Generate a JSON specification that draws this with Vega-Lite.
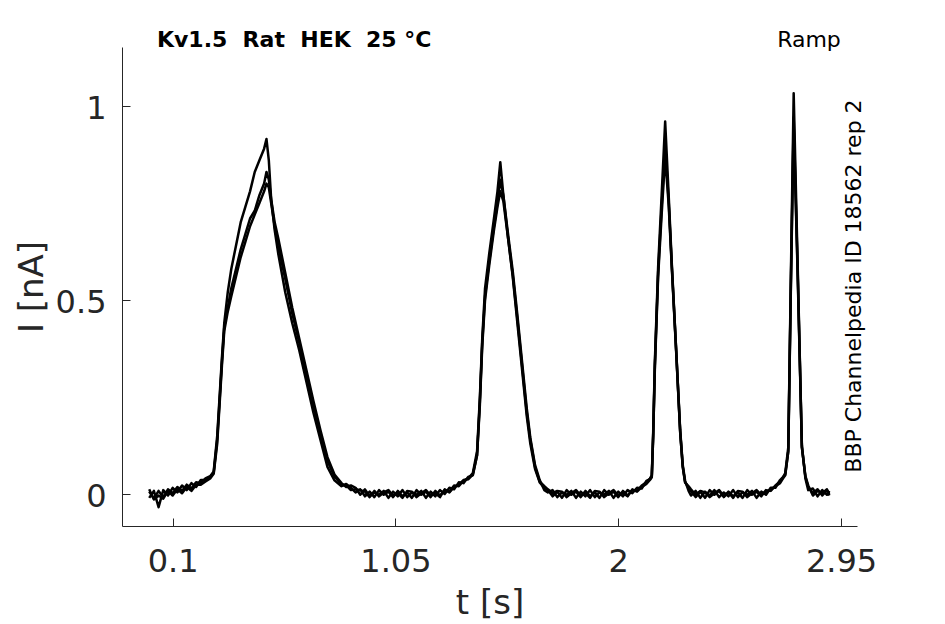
{
  "$schema": "https://vega.github.io/schema/vega-lite/v6.json",
  "width": 735,
  "height": 479,
  "autosize": {"type": "none"},
  "padding": {"left": 122, "top": 47, "right": 88, "bottom": 98},
  "background": "white",
  "config": {
    "view": {"stroke": null},
    "font": "DejaVu Sans",
    "axis": {
      "grid": false,
      "domainColor": "#262626",
      "domainWidth": 1,
      "tickColor": "#262626",
      "tickWidth": 1,
      "tickSize": -8,
      "labelColor": "#262626",
      "titleColor": "#262626",
      "labelFont": "DejaVu Sans",
      "titleFont": "DejaVu Sans",
      "labelFontSize": 32,
      "titleFontSize": 34,
      "titleFontWeight": "normal"
    }
  },
  "datasets": {
    "traces": [
      {"t": 0.00, "a": 0.006, "b": -0.010, "c": 0.012},
      {"t": 0.02, "a": -0.012, "b": 0.008, "c": -0.014},
      {"t": 0.04, "a": 0.008, "b": -0.034, "c": -0.004},
      {"t": 0.06, "a": -0.008, "b": 0.010, "c": -0.012},
      {"t": 0.08, "a": 0.012, "b": -0.004, "c": 0.008},
      {"t": 0.10, "a": 0.002, "b": 0.016, "c": -0.004},
      {"t": 0.12, "a": 0.018, "b": 0.004, "c": 0.012},
      {"t": 0.14, "a": 0.008, "b": 0.022, "c": 0.002},
      {"t": 0.16, "a": 0.024, "b": 0.010, "c": 0.018},
      {"t": 0.18, "a": 0.014, "b": 0.028, "c": 0.008},
      {"t": 0.20, "a": 0.030, "b": 0.018, "c": 0.024},
      {"t": 0.22, "a": 0.028, "b": 0.036, "c": 0.024},
      {"t": 0.24, "a": 0.040, "b": 0.036, "c": 0.032},
      {"t": 0.26, "a": 0.046, "b": 0.044, "c": 0.040},
      {"t": 0.275, "a": 0.058, "b": 0.055, "c": 0.052},
      {"t": 0.29, "a": 0.15, "b": 0.14, "c": 0.13},
      {"t": 0.30, "a": 0.25, "b": 0.24, "c": 0.23},
      {"t": 0.31, "a": 0.35, "b": 0.34, "c": 0.33},
      {"t": 0.32, "a": 0.44, "b": 0.43, "c": 0.42},
      {"t": 0.335, "a": 0.52, "b": 0.48, "c": 0.47},
      {"t": 0.35, "a": 0.58, "b": 0.53, "c": 0.51},
      {"t": 0.37, "a": 0.64, "b": 0.58, "c": 0.56},
      {"t": 0.39, "a": 0.70, "b": 0.63, "c": 0.61},
      {"t": 0.41, "a": 0.74, "b": 0.67, "c": 0.65},
      {"t": 0.43, "a": 0.78, "b": 0.71, "c": 0.69},
      {"t": 0.45, "a": 0.83, "b": 0.73, "c": 0.72},
      {"t": 0.47, "a": 0.86, "b": 0.77, "c": 0.75},
      {"t": 0.49, "a": 0.89, "b": 0.80, "c": 0.78},
      {"t": 0.50, "a": 0.915, "b": 0.83, "c": 0.80},
      {"t": 0.51, "a": 0.86, "b": 0.81, "c": 0.79},
      {"t": 0.52, "a": 0.76, "b": 0.76, "c": 0.75},
      {"t": 0.535, "a": 0.68, "b": 0.70, "c": 0.69},
      {"t": 0.55, "a": 0.62, "b": 0.66, "c": 0.64},
      {"t": 0.58, "a": 0.52, "b": 0.57, "c": 0.555},
      {"t": 0.61, "a": 0.44, "b": 0.48, "c": 0.465},
      {"t": 0.64, "a": 0.37, "b": 0.40, "c": 0.39},
      {"t": 0.67, "a": 0.29, "b": 0.32, "c": 0.31},
      {"t": 0.70, "a": 0.21, "b": 0.24, "c": 0.23},
      {"t": 0.73, "a": 0.14, "b": 0.165, "c": 0.155},
      {"t": 0.76, "a": 0.07, "b": 0.095, "c": 0.085},
      {"t": 0.79, "a": 0.035, "b": 0.05, "c": 0.045},
      {"t": 0.82, "a": 0.02, "b": 0.028, "c": 0.024},
      {"t": 0.84, "a": 0.026, "b": 0.018, "c": 0.022},
      {"t": 0.86, "a": 0.016, "b": 0.022, "c": 0.010},
      {"t": 0.88, "a": 0.004, "b": 0.016, "c": 0.012},
      {"t": 0.90, "a": 0.012, "b": -0.002, "c": 0.010},
      {"t": 0.92, "a": -0.006, "b": 0.012, "c": 0.006},
      {"t": 0.94, "a": 0.006, "b": -0.006, "c": -0.008},
      {"t": 0.96, "a": -0.008, "b": 0.004, "c": 0.008},
      {"t": 0.98, "a": 0.010, "b": -0.002, "c": -0.006},
      {"t": 1.00, "a": -0.002, "b": 0.008, "c": 0.004},
      {"t": 1.02, "a": 0.006, "b": -0.010, "c": 0.010},
      {"t": 1.04, "a": -0.008, "b": 0.006, "c": -0.004},
      {"t": 1.06, "a": 0.008, "b": -0.006, "c": 0.002},
      {"t": 1.08, "a": -0.006, "b": 0.010, "c": -0.010},
      {"t": 1.10, "a": 0.004, "b": -0.008, "c": 0.008},
      {"t": 1.12, "a": -0.010, "b": 0.004, "c": 0.006},
      {"t": 1.14, "a": 0.010, "b": -0.002, "c": -0.008},
      {"t": 1.16, "a": -0.002, "b": 0.008, "c": 0.002},
      {"t": 1.18, "a": 0.006, "b": -0.010, "c": 0.010},
      {"t": 1.20, "a": -0.008, "b": 0.006, "c": -0.004},
      {"t": 1.22, "a": 0.008, "b": -0.006, "c": 0.002},
      {"t": 1.24, "a": -0.004, "b": 0.010, "c": -0.008},
      {"t": 1.26, "a": 0.010, "b": 0.000, "c": 0.012},
      {"t": 1.28, "a": 0.006, "b": 0.016, "c": 0.004},
      {"t": 1.30, "a": 0.022, "b": 0.012, "c": 0.018},
      {"t": 1.32, "a": 0.020, "b": 0.030, "c": 0.024},
      {"t": 1.34, "a": 0.034, "b": 0.028, "c": 0.036},
      {"t": 1.36, "a": 0.040, "b": 0.044, "c": 0.038},
      {"t": 1.38, "a": 0.054, "b": 0.048, "c": 0.050},
      {"t": 1.398, "a": 0.11, "b": 0.10, "c": 0.10},
      {"t": 1.41, "a": 0.25, "b": 0.24, "c": 0.23},
      {"t": 1.42, "a": 0.40, "b": 0.39, "c": 0.38},
      {"t": 1.432, "a": 0.53, "b": 0.51, "c": 0.50},
      {"t": 1.45, "a": 0.62, "b": 0.60, "c": 0.59},
      {"t": 1.47, "a": 0.71, "b": 0.69, "c": 0.68},
      {"t": 1.485, "a": 0.78, "b": 0.75, "c": 0.74},
      {"t": 1.497, "a": 0.855, "b": 0.81, "c": 0.78},
      {"t": 1.51, "a": 0.77, "b": 0.77, "c": 0.755},
      {"t": 1.53, "a": 0.66, "b": 0.67, "c": 0.66},
      {"t": 1.55, "a": 0.56, "b": 0.575, "c": 0.565},
      {"t": 1.57, "a": 0.44, "b": 0.46, "c": 0.45},
      {"t": 1.59, "a": 0.32, "b": 0.34, "c": 0.33},
      {"t": 1.61, "a": 0.20, "b": 0.22, "c": 0.21},
      {"t": 1.625, "a": 0.13, "b": 0.145, "c": 0.14},
      {"t": 1.645, "a": 0.065, "b": 0.075, "c": 0.07},
      {"t": 1.665, "a": 0.03, "b": 0.036, "c": 0.032},
      {"t": 1.685, "a": 0.016, "b": 0.010, "c": 0.020},
      {"t": 1.70, "a": 0.010, "b": 0.004, "c": 0.012},
      {"t": 1.72, "a": -0.006, "b": 0.010, "c": 0.002},
      {"t": 1.74, "a": 0.006, "b": -0.008, "c": 0.008},
      {"t": 1.76, "a": -0.010, "b": 0.004, "c": 0.006},
      {"t": 1.78, "a": 0.010, "b": -0.002, "c": -0.008},
      {"t": 1.80, "a": -0.002, "b": 0.008, "c": 0.002},
      {"t": 1.82, "a": 0.006, "b": -0.010, "c": 0.010},
      {"t": 1.84, "a": -0.008, "b": 0.006, "c": -0.004},
      {"t": 1.86, "a": 0.008, "b": -0.006, "c": 0.002},
      {"t": 1.88, "a": -0.006, "b": 0.010, "c": -0.010},
      {"t": 1.90, "a": 0.004, "b": -0.008, "c": 0.008},
      {"t": 1.92, "a": -0.010, "b": 0.004, "c": 0.006},
      {"t": 1.94, "a": 0.010, "b": -0.002, "c": -0.008},
      {"t": 1.96, "a": -0.002, "b": 0.008, "c": 0.002},
      {"t": 1.98, "a": 0.006, "b": -0.010, "c": 0.010},
      {"t": 2.00, "a": -0.008, "b": 0.006, "c": -0.004},
      {"t": 2.02, "a": 0.008, "b": -0.006, "c": 0.002},
      {"t": 2.04, "a": -0.004, "b": 0.010, "c": -0.006},
      {"t": 2.06, "a": 0.010, "b": 0.002, "c": 0.012},
      {"t": 2.08, "a": 0.008, "b": 0.016, "c": 0.006},
      {"t": 2.10, "a": 0.022, "b": 0.014, "c": 0.018},
      {"t": 2.12, "a": 0.030, "b": 0.034, "c": 0.026},
      {"t": 2.135, "a": 0.040, "b": 0.038, "c": 0.036},
      {"t": 2.143, "a": 0.048, "b": 0.045, "c": 0.043},
      {"t": 2.149, "a": 0.16, "b": 0.15, "c": 0.15},
      {"t": 2.156, "a": 0.34, "b": 0.33, "c": 0.32},
      {"t": 2.17, "a": 0.585, "b": 0.57, "c": 0.56},
      {"t": 2.185, "a": 0.77, "b": 0.74, "c": 0.72},
      {"t": 2.20, "a": 0.96, "b": 0.90, "c": 0.87},
      {"t": 2.215, "a": 0.77, "b": 0.755, "c": 0.745},
      {"t": 2.229, "a": 0.585, "b": 0.58, "c": 0.575},
      {"t": 2.247, "a": 0.37, "b": 0.37, "c": 0.365},
      {"t": 2.264, "a": 0.16, "b": 0.165, "c": 0.16},
      {"t": 2.275, "a": 0.07, "b": 0.075, "c": 0.07},
      {"t": 2.285, "a": 0.03, "b": 0.034, "c": 0.03},
      {"t": 2.30, "a": 0.016, "b": 0.008, "c": 0.020},
      {"t": 2.31, "a": 0.008, "b": -0.004, "c": 0.012},
      {"t": 2.33, "a": -0.008, "b": 0.008, "c": -0.002},
      {"t": 2.35, "a": 0.006, "b": -0.010, "c": 0.008},
      {"t": 2.37, "a": -0.010, "b": 0.006, "c": 0.004},
      {"t": 2.39, "a": 0.010, "b": -0.004, "c": -0.008},
      {"t": 2.41, "a": -0.002, "b": 0.010, "c": 0.002},
      {"t": 2.43, "a": 0.008, "b": -0.008, "c": 0.010},
      {"t": 2.45, "a": -0.008, "b": 0.004, "c": -0.006},
      {"t": 2.47, "a": 0.006, "b": -0.006, "c": 0.004},
      {"t": 2.49, "a": -0.006, "b": 0.010, "c": -0.010},
      {"t": 2.51, "a": 0.004, "b": -0.008, "c": 0.008},
      {"t": 2.53, "a": -0.010, "b": 0.004, "c": 0.006},
      {"t": 2.55, "a": 0.010, "b": -0.002, "c": -0.008},
      {"t": 2.57, "a": -0.002, "b": 0.008, "c": 0.002},
      {"t": 2.59, "a": 0.006, "b": -0.010, "c": 0.010},
      {"t": 2.61, "a": -0.006, "b": 0.006, "c": -0.002},
      {"t": 2.63, "a": 0.010, "b": -0.002, "c": 0.006},
      {"t": 2.65, "a": 0.008, "b": 0.016, "c": 0.010},
      {"t": 2.67, "a": 0.022, "b": 0.016, "c": 0.020},
      {"t": 2.69, "a": 0.032, "b": 0.036, "c": 0.028},
      {"t": 2.70, "a": 0.040, "b": 0.042, "c": 0.038},
      {"t": 2.712, "a": 0.054, "b": 0.050, "c": 0.048},
      {"t": 2.725, "a": 0.12, "b": 0.11, "c": 0.11},
      {"t": 2.736, "a": 0.56, "b": 0.54, "c": 0.53},
      {"t": 2.748, "a": 1.033, "b": 0.97, "c": 0.95},
      {"t": 2.765, "a": 0.59, "b": 0.575, "c": 0.565},
      {"t": 2.783, "a": 0.12, "b": 0.125, "c": 0.12},
      {"t": 2.798, "a": 0.044, "b": 0.040, "c": 0.046},
      {"t": 2.81, "a": 0.018, "b": 0.010, "c": 0.022},
      {"t": 2.83, "a": 0.002, "b": 0.014, "c": -0.004},
      {"t": 2.85, "a": 0.012, "b": -0.006, "c": 0.008},
      {"t": 2.87, "a": -0.004, "b": 0.010, "c": 0.002},
      {"t": 2.89, "a": 0.010, "b": -0.002, "c": 0.012},
      {"t": 2.90, "a": 0.000, "b": 0.008, "c": -0.004}
    ]
  },
  "layer": [
    {
      "data": {"name": "traces"},
      "transform": [{"fold": ["a", "b", "c"], "as": ["sweep", "i"]}],
      "mark": {"type": "line", "color": "black", "strokeWidth": 2.5, "strokeJoin": "round"},
      "encoding": {
        "x": {
          "field": "t",
          "type": "quantitative",
          "scale": {"domain": [-0.116, 3.018], "nice": false, "zero": false},
          "axis": {
            "title": "t [s]",
            "values": [0.1, 1.05, 2, 2.95],
            "format": ".3~g",
            "labelPadding": 28,
            "titleX": 367.5,
            "titleY": 87,
            "titleBaseline": "alphabetic"
          }
        },
        "y": {
          "field": "i",
          "type": "quantitative",
          "scale": {"domain": [-0.0825, 1.152], "nice": false, "zero": false},
          "axis": {
            "title": "I [nA]",
            "values": [0, 0.5, 1],
            "format": ".2~g",
            "labelPadding": 24,
            "labelOffset": 3,
            "titleX": -80,
            "titleY": 239.5,
            "titleAngle": 270,
            "titleBaseline": "alphabetic",
            "titleAlign": "center"
          }
        },
        "detail": {"field": "sweep"}
      }
    },
    {
      "data": {"values": [{"label": "Kv1.5 \u00a0Rat \u00a0HEK \u00a025 °C", "t": 0.033, "i": 1.152}]},
      "mark": {"type": "text", "align": "left", "baseline": "alphabetic", "fontSize": 22, "fontWeight": "bold", "font": "DejaVu Sans", "color": "black"},
      "encoding": {
        "x": {"field": "t", "type": "quantitative"},
        "y": {"field": "i", "type": "quantitative"},
        "text": {"field": "label"}
      }
    },
    {
      "data": {"values": [{"label": "Ramp", "t": 2.949, "i": 1.152}]},
      "mark": {"type": "text", "align": "right", "baseline": "alphabetic", "fontSize": 22, "font": "DejaVu Sans", "color": "black"},
      "encoding": {
        "x": {"field": "t", "type": "quantitative"},
        "y": {"field": "i", "type": "quantitative"},
        "text": {"field": "label"}
      }
    },
    {
      "data": {"values": [{"label": "BBP Channelpedia ID 18562 rep 2", "t": 3.036, "i": 0.536}]},
      "mark": {"type": "text", "align": "center", "baseline": "alphabetic", "angle": 270, "fontSize": 22, "font": "DejaVu Sans", "color": "black"},
      "encoding": {
        "x": {"field": "t", "type": "quantitative"},
        "y": {"field": "i", "type": "quantitative"},
        "text": {"field": "label"}
      }
    }
  ]
}
